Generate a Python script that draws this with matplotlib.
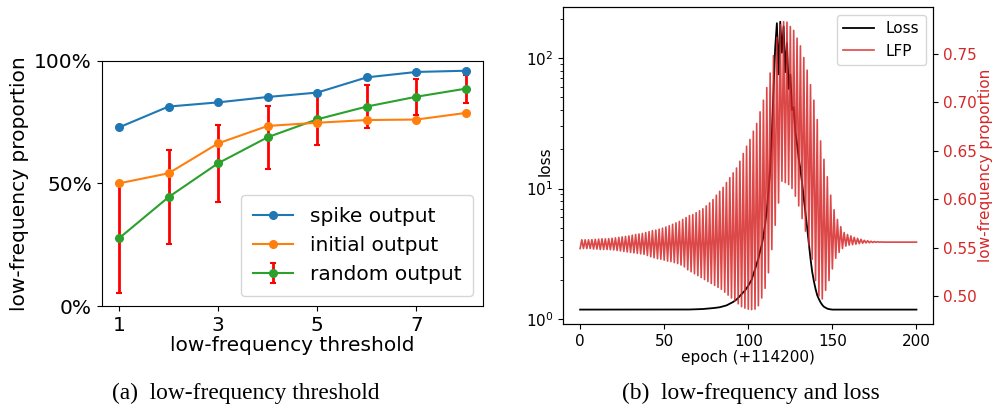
import matplotlib
matplotlib.use("Agg")
import matplotlib.pyplot as plt
from matplotlib.ticker import PercentFormatter
import numpy as np

# ---- (a) low-frequency threshold ----
thresholds = [1, 2, 3, 4, 5, 6, 7, 8]
spike_out = [72.8, 81.3, 83.0, 85.2, 87.0, 93.2, 95.4, 95.9]
initial_out = [50.0, 54.1, 66.3, 73.4, 74.7, 75.8, 76.0, 78.7]
random_out = [27.6, 44.4, 58.2, 68.8, 76.1, 81.3, 85.3, 88.6]
random_err = [22.2, 19.0, 15.7, 12.8, 10.3, 8.8, 7.3, 5.7]

# ---- (b) low-frequency and loss, epochs 0..200 (+114200) ----
# LFP alternates every epoch: low values on even epochs, high on odd epochs
lfp_even = [0.549, 0.549, 0.549, 0.549, 0.5485, 0.5485, 0.548, 0.548, 0.548, 0.5478,
            0.5475, 0.547, 0.5465, 0.546, 0.5455, 0.545, 0.5445, 0.544, 0.5435, 0.543,
            0.5418, 0.5405, 0.5395, 0.5385, 0.538, 0.537, 0.536, 0.5355, 0.5345, 0.5335,
            0.532, 0.530, 0.527, 0.525, 0.523, 0.521, 0.519, 0.517, 0.515, 0.513,
            0.511, 0.509, 0.507, 0.504, 0.501, 0.498, 0.495, 0.492, 0.489, 0.4875,
            0.4865, 0.486, 0.4865, 0.490, 0.498, 0.508, 0.524, 0.548, 0.573, 0.596,
            0.6185, 0.617, 0.615, 0.611, 0.603, 0.593, 0.580, 0.567, 0.552, 0.538,
            0.516, 0.500, 0.497, 0.506, 0.516, 0.528, 0.539, 0.545, 0.549, 0.5515,
            0.5525, 0.553, 0.5535, 0.554, 0.5545, 0.5548, 0.555, 0.5552, 0.5554, 0.5555,
            0.5556, 0.5556, 0.5556, 0.5556, 0.5556, 0.5556, 0.5556, 0.5556, 0.5556, 0.5556,
            0.5556]
lfp_odd = [0.558, 0.558, 0.558, 0.5582, 0.5585, 0.5587, 0.559, 0.559, 0.5592, 0.5595,
           0.560, 0.5605, 0.561, 0.5615, 0.562, 0.5628, 0.5635, 0.564, 0.5646, 0.5655,
           0.5665, 0.5675, 0.568, 0.569, 0.570, 0.5712, 0.5725, 0.574, 0.5755, 0.577,
           0.579, 0.581, 0.583, 0.584, 0.586, 0.588, 0.590, 0.593, 0.596, 0.5995,
           0.604, 0.608, 0.612, 0.617, 0.622, 0.627, 0.632, 0.639, 0.647, 0.6545,
           0.6615, 0.670, 0.678, 0.690, 0.702, 0.715, 0.730, 0.748, 0.767, 0.780,
           0.783, 0.7825, 0.778, 0.774, 0.766, 0.758, 0.746, 0.733, 0.718, 0.702,
           0.682, 0.660, 0.641, 0.623, 0.604, 0.589, 0.579, 0.5715, 0.5655, 0.5635,
           0.562, 0.5605, 0.5595, 0.5585, 0.5575, 0.557, 0.5565, 0.5562, 0.556, 0.5558,
           0.5556, 0.5556, 0.5556, 0.5556, 0.5556, 0.5556, 0.5556, 0.5556, 0.5556, 0.5556]
loss = [1.18, 1.18, 1.18, 1.18, 1.18, 1.18, 1.18, 1.18, 1.18, 1.18,
        1.18, 1.18, 1.18, 1.18, 1.18, 1.18, 1.18, 1.18, 1.18, 1.18,
        1.18, 1.18, 1.18, 1.18, 1.18, 1.18, 1.18, 1.18, 1.18, 1.18,
        1.18, 1.18, 1.18, 1.18, 1.18, 1.18, 1.18, 1.18, 1.18, 1.18,
        1.18, 1.18, 1.18, 1.18, 1.18, 1.18, 1.18, 1.18, 1.18, 1.18,
        1.18, 1.18, 1.18, 1.18, 1.18, 1.18, 1.18, 1.18, 1.18, 1.18,
        1.18, 1.18, 1.18, 1.18, 1.181, 1.182, 1.183, 1.184, 1.185, 1.186,
        1.187, 1.188, 1.19, 1.192, 1.195, 1.198, 1.2, 1.203, 1.207, 1.21,
        1.215, 1.22, 1.225, 1.23, 1.24, 1.25, 1.26, 1.27, 1.29, 1.31,
        1.33, 1.35, 1.38, 1.41, 1.45, 1.5, 1.55, 1.6, 1.65, 1.72,
        1.8, 1.9, 2.0, 2.2, 2.4, 2.65, 2.9, 3.3, 3.7, 4.3,
        5.3, 6.8, 9.5, 14.0, 26.0, 55.0, 120.0, 185.0, 75.0, 190.0,
        110.0, 175.0, 78.0, 130.0, 58.0, 75.0, 40.0, 42.0, 27.0, 22.0,
        17.0, 14.0, 11.0, 8.5, 6.6, 5.0, 3.8, 2.9, 2.3, 1.95,
        1.7, 1.52, 1.42, 1.34, 1.28, 1.24, 1.22, 1.2, 1.19, 1.185,
        1.18, 1.18, 1.18, 1.18, 1.18, 1.18, 1.18, 1.18, 1.18, 1.18,
        1.18, 1.18, 1.18, 1.18, 1.18, 1.18, 1.18, 1.18, 1.18, 1.18,
        1.18, 1.18, 1.18, 1.18, 1.18, 1.18, 1.18, 1.18, 1.18, 1.18,
        1.18, 1.18, 1.18, 1.18, 1.18, 1.18, 1.18, 1.18, 1.18, 1.18,
        1.18, 1.18, 1.18, 1.18, 1.18, 1.18, 1.18, 1.18, 1.18, 1.18,
        1.18]

epochs = np.arange(len(loss))
lfp = np.empty(len(loss))
lfp[0::2] = lfp_even
lfp[1::2] = lfp_odd

fig = plt.figure(figsize=(9.94, 4.08), dpi=100)

# left panel
ax1 = fig.add_axes([0.1023, 0.25, 0.3839, 0.6013])
ax1.errorbar(thresholds, random_out, yerr=random_err, color="tab:green", marker="o",
             ms=5.5, lw=1.5, ecolor="red", elinewidth=2, capsize=2, capthick=1.5,
             label="random output", zorder=1)
ax1.plot(thresholds, spike_out, color="tab:blue", marker="o", ms=5.5, lw=1.5,
         label="spike output", zorder=3)
ax1.plot(thresholds, initial_out, color="tab:orange", marker="o", ms=5.5, lw=1.5,
         label="initial output", zorder=3)
ax1.set_ylim(0, 100)
ax1.set_yticks([0, 50, 100])
ax1.yaxis.set_major_formatter(PercentFormatter(decimals=0))
ax1.set_xticks([1, 3, 5, 7])
ax1.tick_params(labelsize=14.5)
ax1.set_xlabel("low-frequency threshold", fontsize=14.5, labelpad=1)
ax1.set_ylabel("low-frequency proportion", fontsize=14.5)
ax1.legend(fontsize=14.5, loc="lower right", borderpad=0.6)

# right panel
ax2 = fig.add_axes([0.5667, 0.2059, 0.3722, 0.7762])
l1, = ax2.plot(epochs, loss, color="black", lw=1.3, label="Loss")
ax2.set_yscale("log")
ax2.set_ylabel("loss", fontsize=11)
ax2.yaxis.set_label_coords(-0.03, 0.515)
ax2.set_xlabel("epoch (+114200)", fontsize=11, labelpad=1)
ax2.set_xticks([0, 50, 100, 150, 200])
ax2.tick_params(labelsize=11)

ax3 = ax2.twinx()
l2, = ax3.plot(epochs, lfp, color="tab:red", lw=1.2, alpha=0.85, label="LFP")
ax3.set_ylabel("low-frequency proportion", color="tab:red", fontsize=11, labelpad=1)
ax3.tick_params(axis="y", labelcolor="tab:red", labelsize=11)
ax3.set_yticks([0.50, 0.55, 0.60, 0.65, 0.70, 0.75])
ax3.legend([l1, l2], ["Loss", "LFP"], loc="upper right", fontsize=11)

# captions
fig.text(0.2475, 0.022, "(a)  low-frequency threshold", ha="center",
         family="Liberation Serif", fontsize=16.8)
fig.text(0.755, 0.022, "(b)  low-frequency and loss", ha="center",
         family="Liberation Serif", fontsize=16.8)

fig.savefig("out.png", dpi=100)
